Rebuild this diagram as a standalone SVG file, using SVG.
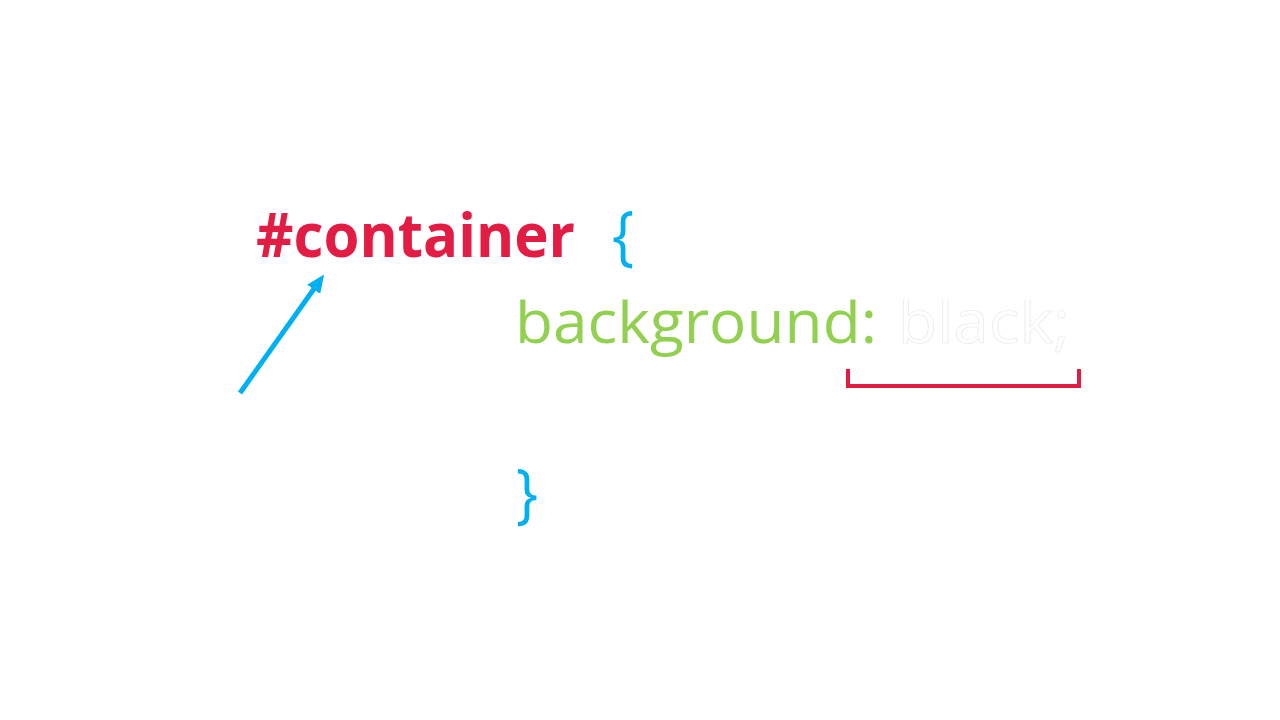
<svg xmlns="http://www.w3.org/2000/svg" width="1280" height="720" viewBox="0 0 1280 720">
<style>
.sel{font-family:"Open Sans","Noto Sans",sans-serif;font-weight:bold;fill:#E31C44}
.prop{font-family:"Open Sans","Noto Sans",sans-serif;fill:#92D050}
.val{font-family:"Open Sans","Noto Sans",sans-serif;fill:#FFFFFF;stroke:#E6E6E6;stroke-width:0.6}
.brace{font-family:"Open Sans","Noto Sans",sans-serif;fill:#00B0F0}
.lbl{font-family:"Open Sans","Noto Sans",sans-serif;font-size:19px;fill:#FFFFFF}
.wline{fill:none;stroke:#FFFFFF;stroke-width:3}
</style>
<defs>
<marker id="ah" markerWidth="18" markerHeight="16" refX="4" refY="8" orient="auto" markerUnits="userSpaceOnUse">
<path d="M0,0 L18,8 L0,16 Z" fill="#00B0F0"/>
</marker>
</defs>
<rect width="1280" height="720" fill="#FFFFFF"/>
<g id="selector">
<text class="sel" x="256" y="257" font-size="60" textLength="319" lengthAdjust="spacingAndGlyphs">#container</text>
</g>
<g id="open-brace">
<text class="brace" x="612" y="258" font-size="66" textLength="22" lengthAdjust="spacingAndGlyphs">{</text>
</g>
<g id="declaration">
<text class="prop" x="515" y="343" font-size="60" textLength="362" lengthAdjust="spacingAndGlyphs">background:</text>
<text class="val" x="898" y="343" font-size="60" textLength="172" lengthAdjust="spacingAndGlyphs">black;</text>
</g>
<g id="close-brace">
<text class="brace" x="516" y="516" font-size="66" textLength="22" lengthAdjust="spacingAndGlyphs">}</text>
</g>
<g id="label-declaracion">
<text class="lbl" x="798" y="256" text-anchor="middle">Declaración</text>
</g>
<g id="label-propiedad">
<text class="lbl" x="678" y="439" text-anchor="middle">Propiedad</text>
</g>
<g id="label-valor">
<text class="lbl" x="964" y="439" text-anchor="middle">Valor de Propiedad</text>
</g>
<g id="label-selector">
<text class="lbl" x="214" y="433" text-anchor="end" font-size="22">Selector</text>
</g>
<g id="connectors">
<line x1="240" y1="393" x2="316" y2="286" stroke="#00B0F0" stroke-width="5" marker-end="url(#ah)"/>
<polyline points="848,369 848,386 1079,386 1079,369" fill="none" stroke="#E31C44" stroke-width="4"/>
<polyline class="wline" points="508,370 508,388 828,388"/>
<polyline class="wline" points="508,305 508,298 1084,298 1084,305"/>
</g>
</svg>
